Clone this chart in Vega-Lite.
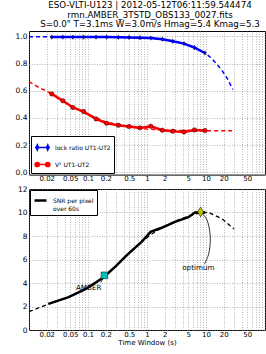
{
  "$schema": "https://vega.github.io/schema/vega-lite/v6.json",
  "padding": {"left": 14, "top": 0, "right": 3, "bottom": 2},
  "spacing": 1,
  "config": {
    "font": "DejaVu Sans",
    "view": {"stroke": "black", "strokeWidth": 1},
    "axis": {
      "labelFont": "DejaVu Sans", "labelFontSize": 7, "labelColor": "black",
      "domain": false, "ticks": false, "tickSize": 0, "labelPadding": 2,
      "gridColor": "#888", "gridDash": [1, 1.5], "gridWidth": 0.6,
      "titleFont": "DejaVu Sans", "titleFontWeight": "normal", "titleFontSize": 7, "titleColor": "black", "titlePadding": 1
    },
    "axisY": {"labelOverlap": false, "labelFontSize": 7.5},
    "legend": {"labelFont": "DejaVu Sans", "labelColor": "black"}
  },
  "resolve": {"scale": {"color": "independent", "y": "independent"}, "legend": {"color": "independent"}},
  "datasets": {
    "pts": [
      {"t": 0.0243, "v": 0.995, "s": "lock ratio UT1-UT2"},
      {"t": 0.0375, "v": 0.995, "s": "lock ratio UT1-UT2"},
      {"t": 0.0555, "v": 0.995, "s": "lock ratio UT1-UT2"},
      {"t": 0.084, "v": 0.995, "s": "lock ratio UT1-UT2"},
      {"t": 0.137, "v": 0.995, "s": "lock ratio UT1-UT2"},
      {"t": 0.207, "v": 0.995, "s": "lock ratio UT1-UT2"},
      {"t": 0.327, "v": 0.994, "s": "lock ratio UT1-UT2"},
      {"t": 0.495, "v": 0.993, "s": "lock ratio UT1-UT2"},
      {"t": 0.76, "v": 0.991, "s": "lock ratio UT1-UT2"},
      {"t": 1.16, "v": 0.988, "s": "lock ratio UT1-UT2"},
      {"t": 1.82, "v": 0.98, "s": "lock ratio UT1-UT2"},
      {"t": 2.73, "v": 0.965, "s": "lock ratio UT1-UT2"},
      {"t": 4.24, "v": 0.947, "s": "lock ratio UT1-UT2"},
      {"t": 6.36, "v": 0.918, "s": "lock ratio UT1-UT2"},
      {"t": 9.62, "v": 0.878, "s": "lock ratio UT1-UT2"},
      {"t": 0.0243, "v": 0.577, "s": "V² UT1-UT2"},
      {"t": 0.0375, "v": 0.526, "s": "V² UT1-UT2"},
      {"t": 0.0555, "v": 0.477, "s": "V² UT1-UT2"},
      {"t": 0.084, "v": 0.447, "s": "V² UT1-UT2"},
      {"t": 0.137, "v": 0.393, "s": "V² UT1-UT2"},
      {"t": 0.207, "v": 0.361, "s": "V² UT1-UT2"},
      {"t": 0.327, "v": 0.346, "s": "V² UT1-UT2"},
      {"t": 0.495, "v": 0.337, "s": "V² UT1-UT2"},
      {"t": 0.76, "v": 0.327, "s": "V² UT1-UT2"},
      {"t": 1.16, "v": 0.339, "s": "V² UT1-UT2"},
      {"t": 1.82, "v": 0.31, "s": "V² UT1-UT2"},
      {"t": 2.73, "v": 0.302, "s": "V² UT1-UT2"},
      {"t": 4.24, "v": 0.297, "s": "V² UT1-UT2"},
      {"t": 6.36, "v": 0.312, "s": "V² UT1-UT2"},
      {"t": 9.62, "v": 0.307, "s": "V² UT1-UT2"}
    ],
    "lockfit": [
      {"t": 0.01, "v": 0.997}, {"t": 0.1, "v": 0.997}, {"t": 0.3, "v": 0.996},
      {"t": 0.5, "v": 0.994}, {"t": 1, "v": 0.989}, {"t": 2, "v": 0.977},
      {"t": 3, "v": 0.964}, {"t": 4.5, "v": 0.945}, {"t": 6.5, "v": 0.918},
      {"t": 9.6, "v": 0.878}, {"t": 12, "v": 0.845}, {"t": 15, "v": 0.8},
      {"t": 19, "v": 0.745}, {"t": 23, "v": 0.69}, {"t": 28.5, "v": 0.61}
    ],
    "v2fit": [
      {"t": 0.01, "v": 0.667}, {"t": 0.015, "v": 0.622}, {"t": 0.02, "v": 0.597},
      {"t": 0.03, "v": 0.555}, {"t": 0.05, "v": 0.49}, {"t": 0.1, "v": 0.425},
      {"t": 0.2, "v": 0.37}, {"t": 0.5, "v": 0.335}, {"t": 1, "v": 0.318},
      {"t": 2, "v": 0.31}, {"t": 5, "v": 0.307}, {"t": 10, "v": 0.306}, {"t": 29, "v": 0.306}
    ],
    "snr": [
      {"t": 0.0213, "v": 2.22, "s": "SNR"}, {"t": 0.047, "v": 2.8, "s": "SNR"},
      {"t": 0.092, "v": 3.5, "s": "SNR"}, {"t": 0.18, "v": 4.45, "s": "SNR"},
      {"t": 0.3, "v": 5.45, "s": "SNR"}, {"t": 0.46, "v": 6.4, "s": "SNR"},
      {"t": 0.81, "v": 7.5, "s": "SNR"}, {"t": 1.15, "v": 8.35, "s": "SNR"},
      {"t": 1.77, "v": 8.7, "s": "SNR"}, {"t": 2.98, "v": 9.2, "s": "SNR"},
      {"t": 5.03, "v": 9.6, "s": "SNR"}, {"t": 6.5, "v": 10.0, "s": "SNR"},
      {"t": 9.6, "v": 10.0, "s": "SNR"}
    ],
    "snrfit": [
      {"t": 0.01, "v": 1.56}, {"t": 0.0213, "v": 2.2}, {"t": 0.047, "v": 2.82},
      {"t": 0.092, "v": 3.5}, {"t": 0.18, "v": 4.45}, {"t": 0.46, "v": 6.35},
      {"t": 0.81, "v": 7.5}, {"t": 1.15, "v": 8.1}, {"t": 1.77, "v": 8.7},
      {"t": 2.98, "v": 9.25}, {"t": 5.03, "v": 9.7}, {"t": 8, "v": 10.0},
      {"t": 11.2, "v": 10.0}, {"t": 18.9, "v": 9.45}, {"t": 29.8, "v": 8.6}
    ],
    "arrow": [
      {"t": 9.4, "v": 5.6, "o": 1}, {"t": 11.0, "v": 6.4, "o": 2}, {"t": 11.7, "v": 7.2, "o": 3},
      {"t": 11.8, "v": 8.0, "o": 4}, {"t": 11.2, "v": 8.8, "o": 5}, {"t": 10.2, "v": 9.45, "o": 6},
      {"t": 8.5, "v": 9.95, "o": 7}
    ],
    "amberArrow": [{"t": 0.165, "v": 4.05, "t2": 0.185, "v2": 4.5}],
    "amber": [{"t": 0.19, "v": 4.65}],
    "opt": [{"t": 8.1, "v": 10.05}],
    "labels": [
      {"t": 0.1028, "v": 3.57, "text": "AMBER"},
      {"t": 7.43, "v": 5.24, "text": "optimum"}
    ]
  },
  "vconcat": [
    {
      "width": 236,
      "height": 143.6,
      "title": {
        "text": ["ESO-VLTI-U123 | 2012-05-12T06:11:59.544474", "rmn.AMBER_3TSTD_OBS133_0027.fits", "S=0.0\" T=3.1ms W=3.0m/s Hmag=5.4 Kmag=5.3"],
        "fontSize": 8.7, "fontWeight": "normal", "font": "DejaVu Sans", "color": "black",
        "lineHeight": 9.7, "offset": 2, "frame": "group", "anchor": "middle", "dx": 3
      },
      "layer": [
        {
          "data": {"name": "lockfit"},
          "mark": {"type": "line", "color": "#0000ff", "strokeWidth": 1.5, "strokeDash": [4, 3]},
          "encoding": {
            "x": {"field": "t", "type": "quantitative", "scale": {"type": "log", "domain": [0.01, 100], "nice": false},
              "axis": {"title": null, "grid": true, "format": "~g", "labelOverlap": false, "labelPadding": 0,
                "values": [0.01,0.02,0.03,0.04,0.05,0.06,0.07,0.08,0.09,0.1,0.2,0.3,0.4,0.5,0.6,0.7,0.8,0.9,1,2,3,4,5,6,7,8,9,10,20,30,40,50,60,70,80,90,100],
                "labelExpr": "indexof([0.02,0.05,0.1,0.2,0.5,1,2,5,10,20,50], datum.value) >= 0 ? datum.label : ''"}},
            "y": {"field": "v", "type": "quantitative", "scale": {"domain": [-0.017, 1.04], "nice": false, "zero": false},
              "axis": {"title": null, "grid": true, "tickCount": 6, "format": ".1f"}}
          }
        },
        {
          "data": {"name": "v2fit"},
          "mark": {"type": "line", "color": "#ff0000", "strokeWidth": 1.5, "strokeDash": [4, 3]},
          "encoding": {
            "x": {"field": "t", "type": "quantitative"},
            "y": {"field": "v", "type": "quantitative"}
          }
        },
        {
          "data": {"name": "pts"},
          "mark": {"type": "line", "strokeWidth": 2.5},
          "encoding": {
            "x": {"field": "t", "type": "quantitative"},
            "y": {"field": "v", "type": "quantitative"},
            "color": {"field": "s", "type": "nominal",
              "scale": {"domain": ["lock ratio UT1-UT2", "V² UT1-UT2"], "range": ["#0000ff", "#ff0000"]},
              "legend": {"title": null, "orient": "bottom-left", "offset": 2, "fillColor": "white", "strokeColor": "black",
                "padding": 3, "labelFontSize": 6, "symbolSize": 225, "rowPadding": 2, "labelOffset": 4,
                "encode": {"symbols": {"update": {
                  "shape": {"signal": "datum.value === 'V² UT1-UT2' ? 'M-1,0H1M-0.42,0A0.28,0.28 0 1 1 -0.98,0A0.28,0.28 0 1 1 -0.42,0ZM0.98,0A0.28,0.28 0 1 1 0.42,0A0.28,0.28 0 1 1 0.98,0Z' : 'M-1,0H1M-0.7,-0.35L-0.55,0L-0.7,0.35L-0.85,0ZM0.7,-0.35L0.85,0L0.7,0.35L0.55,0Z'"},
                  "fill": {"scale": "color", "field": "value"},
                  "stroke": {"scale": "color", "field": "value"},
                  "strokeWidth": {"value": 1.5},
                  "opacity": {"value": 1}
                }}}}}
          }
        },
        {
          "data": {"name": "pts"},
          "mark": {"type": "point", "filled": true, "size": 20, "stroke": "black", "strokeWidth": 0.4, "opacity": 1},
          "encoding": {
            "x": {"field": "t", "type": "quantitative"},
            "y": {"field": "v", "type": "quantitative"},
            "color": {"field": "s", "type": "nominal"},
            "shape": {"field": "s", "type": "nominal", "legend": null,
              "scale": {"domain": ["lock ratio UT1-UT2", "V² UT1-UT2"], "range": ["M0,-1L0.6,0L0,1L-0.6,0Z", "circle"]}}
          }
        }
      ]
    },
    {
      "width": 236,
      "height": 141,
      "layer": [
        {
          "data": {"name": "snrfit"},
          "mark": {"type": "line", "color": "black", "strokeWidth": 1.3, "strokeDash": [4, 3]},
          "encoding": {
            "x": {"field": "t", "type": "quantitative", "scale": {"type": "log", "domain": [0.01, 100], "nice": false},
              "axis": {"title": "Time Window (s)", "grid": true, "format": "~g", "labelOverlap": false, "labelPadding": 0.5,
                "values": [0.01,0.02,0.03,0.04,0.05,0.06,0.07,0.08,0.09,0.1,0.2,0.3,0.4,0.5,0.6,0.7,0.8,0.9,1,2,3,4,5,6,7,8,9,10,20,30,40,50,60,70,80,90,100],
                "labelExpr": "indexof([0.02,0.05,0.1,0.2,0.5,1,2,5,10,20,50], datum.value) >= 0 ? datum.label : ''"}},
            "y": {"field": "v", "type": "quantitative", "scale": {"domain": [0, 12], "nice": false},
              "axis": {"title": null, "grid": true, "tickCount": 6, "format": "d"}}
          }
        },
        {
          "data": {"name": "snr"},
          "mark": {"type": "line", "strokeWidth": 2.5},
          "encoding": {
            "x": {"field": "t", "type": "quantitative"},
            "y": {"field": "v", "type": "quantitative"},
            "color": {"field": "s", "type": "nominal", "scale": {"domain": ["SNR"], "range": ["black"]},
              "legend": {"title": null, "orient": "top-left", "offset": 1, "fillColor": "white", "strokeColor": "black",
                "padding": 3, "labelFontSize": 6, "symbolSize": 144, "labelOffset": 5, "labelBaseline": "middle",
                "labelExpr": "['SNR per pixel', 'over 60s']",
                "encode": {"symbols": {"update": {
                  "shape": {"value": "M-1,0H1"},
                  "stroke": {"value": "black"},
                  "strokeWidth": {"value": 2.5},
                  "opacity": {"value": 1}
                }}}}}
          }
        },
        {
          "data": {"name": "arrow"},
          "mark": {"type": "line", "color": "black", "strokeWidth": 0.8, "interpolate": "cardinal"},
          "encoding": {
            "x": {"field": "t", "type": "quantitative"},
            "y": {"field": "v", "type": "quantitative"},
            "order": {"field": "o", "type": "quantitative"}
          }
        },
        {
          "data": {"name": "amberArrow"},
          "mark": {"type": "rule", "color": "black", "strokeWidth": 0.8},
          "encoding": {
            "x": {"field": "t", "type": "quantitative"},
            "y": {"field": "v", "type": "quantitative"},
            "x2": {"field": "t2"},
            "y2": {"field": "v2"}
          }
        },
        {
          "data": {"name": "amber"},
          "mark": {"type": "point", "shape": "square", "filled": true, "size": 45, "color": "#00bfbf", "stroke": "black", "strokeWidth": 0.5, "opacity": 1},
          "encoding": {
            "x": {"field": "t", "type": "quantitative"},
            "y": {"field": "v", "type": "quantitative"}
          }
        },
        {
          "data": {"name": "opt"},
          "mark": {"type": "point", "shape": "M0,-1L0.6,0L0,1L-0.6,0Z", "filled": true, "size": 100, "color": "#bfbf00", "stroke": "black", "strokeWidth": 0.5, "opacity": 1},
          "encoding": {
            "x": {"field": "t", "type": "quantitative"},
            "y": {"field": "v", "type": "quantitative"}
          }
        },
        {
          "data": {"name": "labels"},
          "mark": {"type": "text", "font": "DejaVu Sans", "fontSize": 7.2, "color": "black", "align": "center", "baseline": "middle"},
          "encoding": {
            "x": {"field": "t", "type": "quantitative"},
            "y": {"field": "v", "type": "quantitative"},
            "text": {"field": "text"}
          }
        }
      ]
    }
  ]
}
